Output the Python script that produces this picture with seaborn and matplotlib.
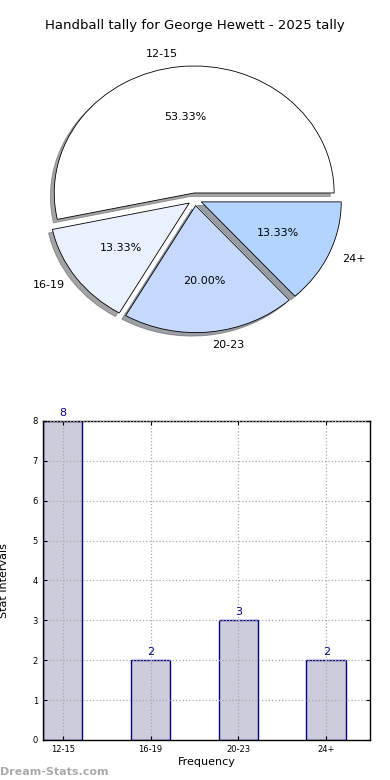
import matplotlib
matplotlib.use("Agg")
import matplotlib.pyplot as plt
import seaborn as sns
import pandas as pd

categories = ["12-15", "16-19", "20-23", "24+"]
counts = [8, 2, 3, 2]
pie_colors = ["#ffffff", "#eaf1fe", "#c5d8fe", "#b3d4ff"]
title = "Handball tally for George Hewett - 2025 tally"

sns.set_style("white")
plt.rcParams["font.family"] = ["DejaVu Sans"]
plt.rcParams["text.color"] = "black"
plt.rcParams["axes.labelcolor"] = "black"
plt.rcParams["xtick.color"] = "black"
plt.rcParams["ytick.color"] = "black"

fig = plt.figure(figsize=(3.9, 7.8), dpi=100)

# Pie
ax1 = fig.add_axes([0.0513, 0.541, 0.897, 0.407])
wedges, texts, autotexts = ax1.pie(
    counts, labels=categories, colors=pie_colors, autopct="%.2f%%",
    explode=[0.05] * len(counts), shadow=True, startangle=0,
    wedgeprops=dict(edgecolor="black", linewidth=0.6),
    textprops=dict(fontsize=8, color="black"))
ax1.set_aspect("auto")
ax1.set_xlim(-1.25, 1.25)
ax1.set_ylim(-1.25, 1.25)
ax1.set_title(title, fontsize=9.5, pad=8, color="black")

# Bar
df = pd.DataFrame({"cat": categories, "val": counts})
ax2 = fig.add_axes([0.110, 0.0513, 0.839, 0.409])
sns.barplot(data=df, x="cat", y="val", ax=ax2, width=0.45,
            color="#ccccdd", edgecolor="#000080", linewidth=1.0, saturation=1)
for p, v in zip(ax2.patches, counts):
    ax2.text(p.get_x() + p.get_width() / 2, v + 0.08, str(v), ha="center",
             va="bottom", color="#000080", fontsize=8)
ax2.set_xlim(-0.225, 3.5)
ax2.set_ylim(0, 8)
ax2.set_yticks(range(0, 9))
ax2.grid(True, linestyle=":", color="#aaaaaa", linewidth=0.9)
ax2.set_axisbelow(False)
for s in ax2.spines.values():
    s.set_visible(True)
    s.set_color("black")
    s.set_linewidth(1.0)
ax2.tick_params(axis="both", labelsize=6, direction="in", length=3,
                top=True, right=True, bottom=True, left=True)
ax2.set_xlabel("Frequency", fontsize=8, labelpad=2)
ax2.set_ylabel("Stat Intervals", fontsize=8, labelpad=2)
ax2.yaxis.set_label_coords(-0.105, 0.5)

fig.text(0.0, 0.004, "Dream-Stats.com", fontsize=8, color="#aaaaaa",
         fontweight="bold", ha="left", va="bottom")

fig.savefig("out.png", dpi=100)
